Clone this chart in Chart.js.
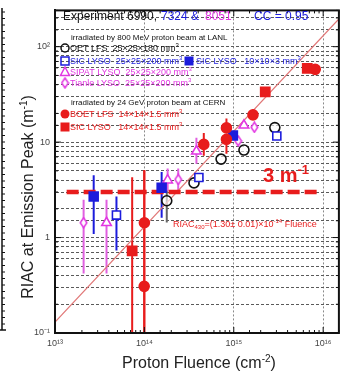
<!DOCTYPE html>
<html>
<head>
<meta charset="utf-8">
<script src="https://cdn.jsdelivr.net/npm/chart.js@4.4.1/dist/chart.umd.min.js"></script>
<style>
  html, body { margin: 0; padding: 0; background: #fff; }
</style>
</head>
<body>
<canvas id="chart" width="347" height="375"></canvas>
<script>
// --- data (fluence in cm^-2, RIAC in m^-1) ---
const oetX = [1.78e14, 3.59e14, 7.21e14, 1.30e15, 2.88e15];
const oetY = [2.43, 3.74, 6.64, 8.26, 14.2];
const oetLo = [1.44, null, null, null, null];
const oetHi = [3.1, null, null, null, null];

const sicLargeX = [4.87e13, 4.07e14, 3.03e15];
const sicLargeY = [1.72, 4.26, 11.6];
const sicLargeLo = [0.73, null, null];
const sicLargeHi = [2.69, null, null];

const sicSmallX = [2.71e13, 1.56e14, 9.78e14];
const sicSmallY = [2.69, 3.33, 11.7];
const sicSmallLo = [1.09, 1.61, null];
const sicSmallHi = [4.5, 4.86, null];

const sipatX = [3.77e13, 1.82e14, 3.82e14, 1.30e15];
const sipatY = [1.43, 3.99, 8.02, 15.0];
const sipatLo = [0.42, 3.03, 5.93, null];
const sipatHi = [2.49, 5.3, 11.1, null];

const tianleX = [2.09e13, 2.39e14, 1.12e15, 1.70e15];
const tianleY = [1.43, 4.06, 10.3, 14.3];
const tianleLo = [0.42, 3.03, null, null];
const tianleHi = [2.49, 5.3, null, null];

const boetX = [9.95e13, 1.0e14, 4.62e14, 8.28e14, 8.28e14, 1.64e15, 8.15e15];
const boetY = [0.308, 1.43, 9.47, 10.7, 14.1, 19.3, 57.9];
const boetLo = [0.05, 0.05, 7.21, 7.56, null, null, null];
const boetHi = [5.06, 5.06, 12.5, null, 17.7, 21.9, null];

const sicCernX = [7.3e13, 2.25e15, 6.64e15];
const sicCernY = [0.727, 33.6, 59.3];
const sicCernLo = [0.05, null, null];
const sicCernHi = [4.29, null, null];

// fit RIAC = 1.30e-14 * fluence, end points
const fitX = [1e13, 1.5e16];
const fitY = [0.13, 195];

// 3 m^-1 threshold
const limitX = [1.35e13, 9.5e15];
const limitY = [3, 3];

const BLACK = '#111111';
const BLUE = '#1c1cdc';
const MAGENTA = '#e236e2';
const RED = '#e81c1c';
const FONT = '"Liberation Sans", Arial, sans-serif';

const pts = (xs, ys) => xs.map((v, i) => ({ x: v, y: ys[i] }));
const isPow = v => Math.abs(Math.log10(v) - Math.round(Math.log10(v))) < 1e-6;
const SUP = { '0': '⁰', '1': '¹', '2': '²', '3': '³', '4': '⁴', '5': '⁵', '6': '⁶', '7': '⁷', '8': '⁸', '9': '⁹', '-': '⁻' };
const sup = s => String(s).split('').map(c => SUP[c]).join('');

function diamond() {
  const c = document.createElement('canvas');
  c.width = 9; c.height = 12;
  const g = c.getContext('2d');
  g.beginPath();
  g.moveTo(4.5, 1); g.lineTo(7.8, 6); g.lineTo(4.5, 11); g.lineTo(1.2, 6); g.closePath();
  g.fillStyle = '#fff'; g.fill();
  g.strokeStyle = MAGENTA; g.lineWidth = 1.5; g.stroke();
  return c;
}
const diamondImg = diamond();

// text with super/subscripts: parts = [[text, 0|1|-1], ...]
function rich(ctx, x, y, parts, size, color, weight, align) {
  ctx.fillStyle = color;
  ctx.textBaseline = 'alphabetic';
  ctx.textAlign = 'left';
  const fontOf = m => (weight || '') + ' ' + (m ? Math.round(size * 0.65) : size) + 'px ' + FONT;
  let w = 0;
  parts.forEach(([t, m]) => { ctx.font = fontOf(m); w += ctx.measureText(t).width; });
  let cx = align === 'center' ? x - w / 2 : x;
  parts.forEach(([t, m]) => {
    ctx.font = fontOf(m);
    const dy = m === 1 ? -size * 0.4 : m === -1 ? size * 0.25 : 0;
    ctx.fillText(t, cx, y + dy);
    cx += ctx.measureText(t).width;
  });
}

const errorBars = {
  id: 'errorBars',
  beforeDatasetsDraw(chart) {
    const { ctx, chartArea: a, scales: { x, y } } = chart;
    ctx.save();
    ctx.beginPath(); ctx.rect(a.left, a.top, a.width, a.height); ctx.clip();
    chart.data.datasets.forEach(ds => {
      if (!ds.errLo) return;
      ctx.strokeStyle = ds.errColor;
      ctx.lineWidth = 2;
      ds.data.forEach((p, i) => {
        const lo = ds.errLo[i], hi = ds.errHi[i];
        if (lo == null && hi == null) return;
        const px = x.getPixelForValue(p.x);
        ctx.beginPath();
        ctx.moveTo(px, y.getPixelForValue(hi ?? p.y));
        ctx.lineTo(px, y.getPixelForValue(lo ?? p.y));
        ctx.stroke();
      });
    });
    ctx.restore();
  }
};

function marker(ctx, type, x, y, color) {
  ctx.save();
  ctx.strokeStyle = color; ctx.fillStyle = color; ctx.lineWidth = 1.5;
  ctx.beginPath();
  if (type === 'circle') { ctx.arc(x, y, 4, 0, Math.PI * 2); ctx.stroke(); }
  if (type === 'dot') { ctx.arc(x, y, 4.5, 0, Math.PI * 2); ctx.fill(); }
  if (type === 'square') { ctx.strokeRect(x - 4, y - 4, 8, 8); }
  if (type === 'block') { ctx.fillRect(x - 4.5, y - 4.5, 9, 9); }
  if (type === 'triangle') { ctx.moveTo(x, y - 5); ctx.lineTo(x + 4.5, y + 3.5); ctx.lineTo(x - 4.5, y + 3.5); ctx.closePath(); ctx.stroke(); }
  if (type === 'diamond') { ctx.drawImage(diamondImg, x - 4.5, y - 6); }
  ctx.restore();
}

const decorations = {
  id: 'decorations',
  afterDatasetsDraw(chart) {
    const { ctx, chartArea: a, scales: { x, y } } = chart;
    ctx.save();
    // inward ticks
    ctx.strokeStyle = BLACK; ctx.lineWidth = 1;
    const seg = (x1, y1, x2, y2) => { ctx.beginPath(); ctx.moveTo(x1, y1); ctx.lineTo(x2, y2); ctx.stroke(); };
    x.ticks.forEach(t => {
      const px = x.getPixelForValue(t.value), len = isPow(t.value) ? 6 : 3;
      seg(px, a.bottom, px, a.bottom - len); seg(px, a.top, px, a.top + len);
    });
    y.ticks.forEach(t => {
      const py = y.getPixelForValue(t.value), len = isPow(t.value) ? 6 : 3;
      seg(a.left, py, a.left + len, py); seg(a.right, py, a.right - len, py);
    });
    ctx.lineWidth = 2;
    ctx.strokeRect(a.left, a.top, a.width, a.height);

    // cropped frame at the far left
    ctx.lineWidth = 1.5;
    seg(2, 8, 2, 330); seg(0, 330, 6, 330);
    ctx.lineWidth = 1;
    for (let py = 12; py < 330; py += 6.5) seg(2, py, 5, py);

    // header and legend
    rich(ctx, 63, 20, [['Experiment 6990, ', 0]], 12, BLACK);
    rich(ctx, 161, 20, [['7324 & ', 0]], 12, BLUE);
    rich(ctx, 205, 20, [['8051', 0]], 12, MAGENTA);
    rich(ctx, 254, 20, [['CC = 0.95', 0]], 12, BLUE);
    rich(ctx, 71, 40, [['irradiated by 800 MeV proton beam at LANL', 0]], 8, BLACK);
    marker(ctx, 'circle', 65, 48, BLACK);
    rich(ctx, 70, 51, [['OET LFS  25×25×180 mm', 0], ['3', 1]], 9, BLACK);
    marker(ctx, 'square', 65, 61, BLUE);
    rich(ctx, 70, 64, [['SIC LYSO  25×25×200 mm', 0], ['3', 1]], 9, BLUE);
    marker(ctx, 'block', 189, 61, BLUE);
    rich(ctx, 196, 64, [['SIC LYSO   10×10×3 mm', 0], ['3', 1]], 9, BLUE);
    marker(ctx, 'triangle', 65, 72, MAGENTA);
    rich(ctx, 70, 75, [['SIPAT LYSO  25×25×200 mm', 0], ['3', 1]], 9, MAGENTA);
    marker(ctx, 'diamond', 65, 83, MAGENTA);
    rich(ctx, 70, 86, [['Tianle LYSO  25×25×200 mm', 0], ['3', 1]], 9, MAGENTA);
    rich(ctx, 71, 105, [['irradiated by 24 GeV proton beam at CERN', 0]], 8, BLACK);
    marker(ctx, 'dot', 65, 114, RED);
    rich(ctx, 70, 117, [['BOET LFS  14×14×1.5 mm', 0], ['3', 1]], 9, RED);
    marker(ctx, 'block', 65, 127, RED);
    rich(ctx, 70, 130, [['SIC LYSO   14×14×1.5 mm', 0], ['3', 1]], 9, RED);

    // annotations
    rich(ctx, 263, 182, [['3 m', 0], ['-1', 1]], 20, RED, 'bold');
    rich(ctx, 173, 227, [['RIAC', 0], ['430', -1], ['=(1.30± 0.01)×10', 0], ['-14', 1], [' Fluence', 0]], 9, RED);

    // axis titles
    rich(ctx, 199, 368, [['Proton Fluence (cm', 0], ['-2', 1], [')', 0]], 16, '#222', '', 'center');
    ctx.translate(33, 197);
    ctx.rotate(-Math.PI / 2);
    rich(ctx, 0, 0, [['RIAC at Emission Peak (m', 0], ['-1', 1], [')', 0]], 16, '#222', '', 'center');
    ctx.restore();
  }
};

const ptDataset = (label, xs, ys, lo, hi, style, color, fill, radius, errColor) => ({
  label, data: pts(xs, ys), errLo: lo, errHi: hi, errColor,
  pointStyle: style, pointRadius: radius, pointHoverRadius: radius,
  borderColor: color, backgroundColor: fill, pointBorderWidth: 1.6, showLine: false
});

new Chart(document.getElementById('chart'), {
  type: 'scatter',
  data: {
    datasets: [
      ptDataset('BOET LFS', boetX, boetY, boetLo, boetHi, 'circle', RED, RED, 5, RED),
      ptDataset('SIC LYSO CERN', sicCernX, sicCernY, sicCernLo, sicCernHi, 'rect', RED, RED, 6.5, RED),
      ptDataset('SIC LYSO 10x10x3', sicSmallX, sicSmallY, sicSmallLo, sicSmallHi, 'rect', BLUE, BLUE, 6.3, BLUE),
      ptDataset('SIC LYSO 25x25x200', sicLargeX, sicLargeY, sicLargeLo, sicLargeHi, 'rect', BLUE, '#fff', 5.7, BLUE),
      ptDataset('SIPAT LYSO', sipatX, sipatY, sipatLo, sipatHi, 'triangle', MAGENTA, '#fff', 5.5, '#e060e0'),
      ptDataset('Tianle LYSO', tianleX, tianleY, tianleLo, tianleHi, diamondImg, MAGENTA, '#fff', 5, '#e060e0'),
      ptDataset('OET LFS', oetX, oetY, oetLo, oetHi, 'circle', BLACK, 'rgba(255,255,255,0.6)', 5, '#666'),
      {
        label: '3 m-1', data: pts(limitX, limitY), showLine: true, pointRadius: 0,
        borderColor: RED, borderWidth: 4.5, borderDash: [12, 5], borderCapStyle: 'butt'
      },
      {
        label: 'fit', data: pts(fitX, fitY), showLine: true, pointRadius: 0,
        borderColor: '#e07575', borderWidth: 1.2
      }
    ]
  },
  options: {
    responsive: false,
    animation: false,
    devicePixelRatio: 1,
    layout: { padding: { top: 7, right: 4, left: 0, bottom: 0 } },
    plugins: { legend: { display: false }, tooltip: { enabled: false } },
    scales: {
      x: {
        type: 'logarithmic', min: 1e13, max: 1.5e16,
        afterFit: s => { s.height = 42; },
        grid: {
          color: c => (c.tick && isPow(c.tick.value) ? '#8a8a8a' : 'rgba(0,0,0,0)'),
          lineWidth: 1, drawTicks: false
        },
        border: { display: true, color: BLACK, width: 2, dash: [2, 2] },
        ticks: {
          autoSkip: false, maxRotation: 0, padding: 5, color: '#444',
          font: { family: FONT, size: 9 },
          callback: v => (isPow(v) && v < 1.2e16 ? '10' + sup(Math.round(Math.log10(v))) : '')
        }
      },
      y: {
        type: 'logarithmic', min: 0.1, max: 240,
        afterFit: s => { s.width = 55; },
        grid: { color: '#5a5a5a', lineWidth: 1, drawTicks: false },
        border: { display: true, color: BLACK, width: 2, dash: [3, 2] },
        ticks: {
          autoSkip: false, padding: 5, color: '#444',
          font: { family: FONT, size: 9 },
          callback: v => {
            if (!isPow(v) || v > 150) return '';
            const e = Math.round(Math.log10(v));
            return e === 0 ? '1' : e === 1 ? '10' : '10' + sup(e);
          }
        }
      }
    }
  },
  plugins: [errorBars, decorations]
});
</script>
</body>
</html>
